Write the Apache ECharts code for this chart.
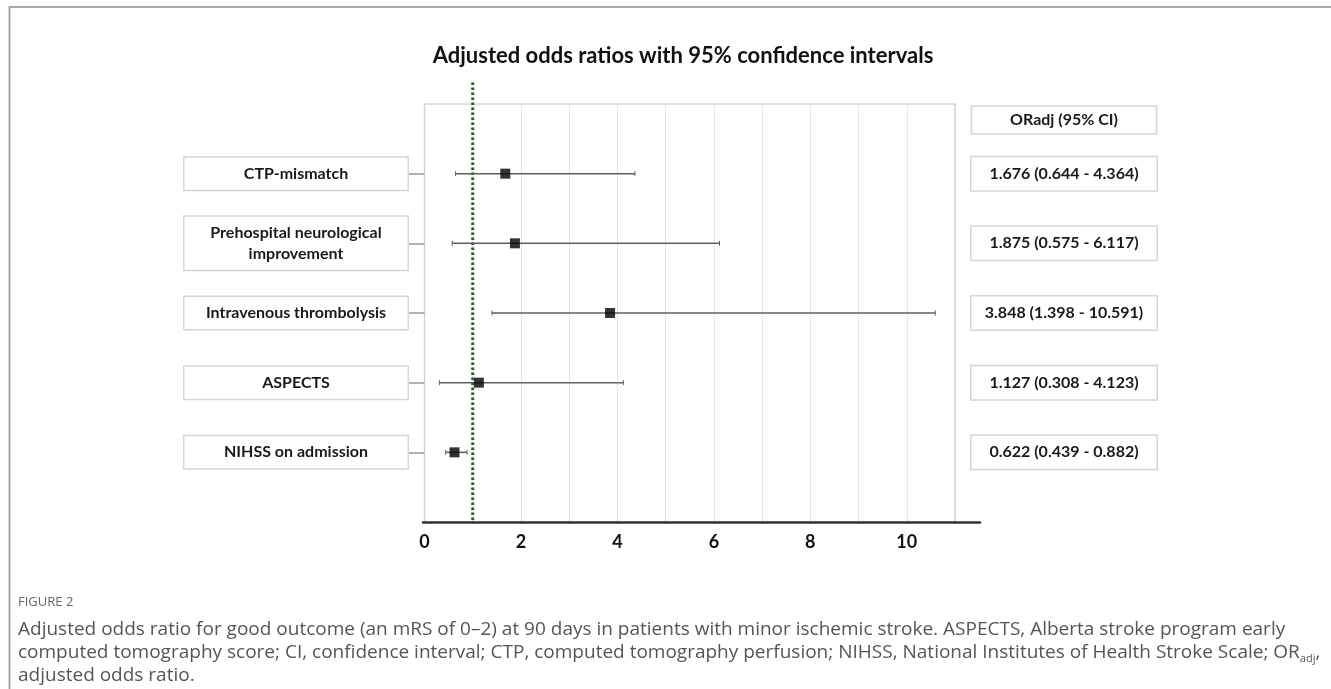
<!DOCTYPE html>
<html>
<head>
<meta charset="utf-8">
<script src="https://cdn.jsdelivr.net/npm/echarts@6/dist/echarts.min.js"></script>
<style>
  html, body { margin: 0; padding: 0; background: #fff; }
  #main { width: 1331px; height: 689px; }
</style>
</head>
<body>
<div id="main"></div>
<script>
// rows of the forest plot, top to bottom
const factors = ['CTP-mismatch', 'Prehospital neurological\nimprovement', 'Intravenous thrombolysis', 'ASPECTS', 'NIHSS on admission'];
const oddsRatio = [1.676, 1.875, 3.848, 1.127, 0.622];
const ciLower = [0.644, 0.575, 1.398, 0.308, 0.439];
const ciUpper = [4.364, 6.117, 10.591, 4.123, 0.882];
const rowPos = [1, 2, 3, 4, 5];
const xTickLabels = [0, 2, 4, 6, 8, 10];
const refLine = 1;

const ciText = oddsRatio.map((v, i) =>
    v.toFixed(3) + ' (' + ciLower[i].toFixed(3) + ' - ' + ciUpper[i].toFixed(3) + ')');

const FONT = 'Lato';
const boxBorder = '#d6d6d6';

const chart = echarts.init(document.getElementById('main'), null, { renderer: 'canvas' });

const caption = [
    '{t|Adjusted odds ratio for good outcome (an mRS of 0\u20132) at 90 days in patients with minor ischemic stroke. ASPECTS, Alberta stroke program early}',
    '{t|computed tomography score; CI, confidence interval; CTP, computed tomography perfusion; NIHSS, National Institutes of Health Stroke Scale; }{t|OR}{s|adj}{t|,}',
    '{t|adjusted odds ratio.}'
].join('\n');

chart.setOption({
    animation: false,
    backgroundColor: '#fff',
    title: [
        {
            text: 'Adjusted odds ratios with 95% confidence intervals',
            left: 683, top: 45, textAlign: 'center', padding: 0,
            textStyle: { fontFamily: FONT, fontWeight: 'bold', fontSize: 22, color: '#111' }
        },
        {
            text: '{h|ORadj (95% CI)}',
            left: 971.5, top: 104, padding: [6, 0],
            borderColor: boxBorder, borderWidth: 1.5, backgroundColor: '#fff',
            textStyle: {
                rich: { h: { width: 185, align: 'center', fontFamily: FONT, fontWeight: 'bold', fontSize: 16, lineHeight: 20, color: '#1a1a1a' } }
            }
        },
        {
            text: 'FIGURE 2',
            left: 18, top: 596, padding: 0,
            textStyle: { fontFamily: 'Open Sans', fontWeight: 'normal', fontSize: 13, color: '#666' }
        },
        {
            text: caption,
            left: 18, top: 618, padding: 0,
            textStyle: {
                rich: {
                    t: { fontFamily: 'Open Sans', fontWeight: 'normal', fontSize: 19, lineHeight: 23, color: '#555' },
                    s: { fontFamily: 'Open Sans', fontWeight: 'normal', fontSize: 11, lineHeight: 23, color: '#555', verticalAlign: 'bottom', padding: [9, 0, 0, 0] }
                }
            }
        }
    ],
    graphic: [{
        type: 'polyline',
        shape: { points: [[1331, 7], [9.5, 7], [9.5, 689]] },
        style: { stroke: '#a8a8a8', lineWidth: 2, fill: null }
    }],
    grid: [
        { left: 424.5, top: 104, width: 530.5, height: 418, show: true, borderColor: boxBorder, borderWidth: 1.5, backgroundColor: 'transparent' },
        { left: 423, top: 104, width: 557, height: 418 }
    ],
    xAxis: [
        {
            type: 'value', gridIndex: 0, min: 0, max: 11, interval: 1,
            axisLine: { show: false },
            axisTick: { show: false },
            splitLine: { show: true, lineStyle: { color: '#cfcfcf', type: 'dotted', width: 1 } },
            axisLabel: {
                margin: 11,
                formatter: v => xTickLabels.includes(v) ? String(v) : '',
                fontFamily: FONT, fontWeight: 'bold', fontSize: 18, color: '#111'
            }
        },
        {
            type: 'value', gridIndex: 1, min: 0, max: 1, z: 5,
            axisLine: { show: true, lineStyle: { color: '#333', width: 2.5 } },
            axisTick: { show: false },
            axisLabel: { show: false },
            splitLine: { show: false }
        }
    ],
    yAxis: [
        {
            type: 'value', gridIndex: 0, min: 0, max: 6, interval: 1, inverse: true,
            axisLine: { show: false },
            splitLine: { show: false },
            axisTick: { show: true, customValues: rowPos, length: 17, lineStyle: { color: '#9a9a9a', width: 1.5 } },
            axisLabel: {
                customValues: rowPos,
                formatter: v => factors[v - 1] || '',
                align: 'center', margin: 128.5,
                width: 223, padding: [5.5, 0], lineHeight: 21,
                borderColor: boxBorder, borderWidth: 1.5, backgroundColor: '#fff',
                fontFamily: FONT, fontWeight: 'bold', fontSize: 16, color: '#1a1a1a'
            }
        },
        {
            type: 'value', gridIndex: 0, position: 'right', min: 0, max: 6, interval: 1, inverse: true,
            axisLine: { show: false },
            splitLine: { show: false },
            axisTick: { show: false },
            axisLabel: {
                customValues: rowPos,
                formatter: v => ciText[v - 1] || '',
                align: 'center', margin: 109,
                width: 185, padding: [6, 0], lineHeight: 21,
                borderColor: boxBorder, borderWidth: 1.5, backgroundColor: '#fff',
                fontFamily: FONT, fontWeight: 'bold', fontSize: 16, color: '#1a1a1a'
            }
        },
        {
            type: 'value', gridIndex: 1, show: false, min: 0, max: 6
        }
    ],
    series: [
        {
            // reference line at OR = 1, runs a little above the plot box
            type: 'custom',
            xAxisIndex: 0, yAxisIndex: 0,
            clip: false, z: 3,
            data: [[refLine]],
            encode: { x: 0 },
            renderItem(params, api) {
                const top = api.coord([api.value(0), -0.31]);
                const bottom = api.coord([api.value(0), 6]);
                return {
                    type: 'line',
                    shape: { x1: top[0], y1: top[1], x2: bottom[0], y2: bottom[1] },
                    style: { stroke: '#245f24', lineWidth: 3, lineDash: [2.5, 2.5] }
                };
            }
        },
        {
            // confidence interval whiskers
            type: 'custom',
            xAxisIndex: 0, yAxisIndex: 0, z: 4,
            data: rowPos.map((r, i) => [r, ciLower[i], ciUpper[i]]),
            encode: { x: [1, 2], y: 0 },
            renderItem(params, api) {
                const lo = api.coord([api.value(1), api.value(0)]);
                const hi = api.coord([api.value(2), api.value(0)]);
                const col = '#5f5f5f';
                return {
                    type: 'group',
                    children: [
                        { type: 'line', shape: { x1: lo[0], y1: lo[1], x2: hi[0], y2: hi[1] }, style: { stroke: col, lineWidth: 1.5 } },
                        { type: 'line', shape: { x1: lo[0], y1: lo[1] - 2.5, x2: lo[0], y2: lo[1] + 2.5 }, style: { stroke: col, lineWidth: 1 } },
                        { type: 'line', shape: { x1: hi[0], y1: hi[1] - 2.5, x2: hi[0], y2: hi[1] + 2.5 }, style: { stroke: col, lineWidth: 1 } }
                    ]
                };
            }
        },
        {
            type: 'scatter',
            xAxisIndex: 0, yAxisIndex: 0, z: 6,
            symbol: 'rect', symbolSize: 10,
            itemStyle: { color: '#000' },
            data: rowPos.map((r, i) => [oddsRatio[i], r])
        }
    ]
});
</script>
</body>
</html>
